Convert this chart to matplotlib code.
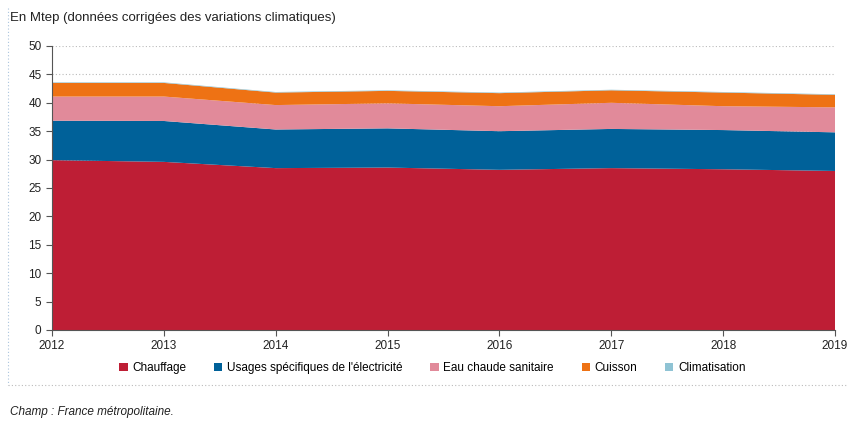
import matplotlib.pyplot as plt
from matplotlib.lines import Line2D
from matplotlib.patches import Patch

plt.rcParams['font.family'] = ['Liberation Sans', 'DejaVu Sans']

# Données (Mtep)
annees = [2012, 2013, 2014, 2015, 2016, 2017, 2018, 2019]
chauffage = [29.9, 29.6, 28.5, 28.6, 28.2, 28.5, 28.3, 28.0]
electricite = [6.95, 7.2, 6.8, 6.9, 6.8, 6.9, 6.9, 6.8]
eau_chaude = [4.25, 4.3, 4.3, 4.4, 4.4, 4.6, 4.2, 4.4]
cuisson = [2.4, 2.4, 2.2, 2.2, 2.3, 2.2, 2.4, 2.2]
climatisation = [0.1, 0.1, 0.1, 0.1, 0.1, 0.1, 0.1, 0.1]

noms = ['Chauffage', "Usages spécifiques de l'électricité", 'Eau chaude sanitaire',
        'Cuisson', 'Climatisation']
couleurs = ['#BE1E35', '#006199', '#E18A9A', '#EE7214', '#8FC3D4']

fig = plt.figure(figsize=(8.47, 4.21), dpi=100)
ax = fig.add_axes([52 / 847, 1 - 330 / 421, (835 - 52) / 847, (330 - 46) / 421])

ax.stackplot(annees, chauffage, electricite, eau_chaude, cuisson, climatisation,
             colors=couleurs, zorder=2)

ax.set_xlim(2012, 2019)
ax.set_ylim(0, 50)
ax.set_yticks(range(0, 51, 5))
ax.set_xticks(annees)
ax.yaxis.grid(True, linestyle=(0, (1, 2)), color='#bbbbbb', linewidth=0.8, zorder=0)
ax.set_axisbelow(True)
for s in ['top', 'right']:
    ax.spines[s].set_visible(False)
ax.spines['left'].set_color('#555555')
ax.spines['bottom'].set_color('#555555')
ax.tick_params(labelsize=8.5, colors='#222222', length=4, color='#555555')

# Légende
handles = [Patch(facecolor=c, edgecolor='none') for c in couleurs]
fig.legend(handles, noms, loc='center', bbox_to_anchor=(0.5106, 1 - 368 / 421), ncol=5,
           frameon=False, fontsize=8.5, handlelength=0.7, handleheight=0.7,
           handletextpad=0.4, columnspacing=2.35)

fig.text(10 / 847, 1 - 18 / 421, 'En Mtep (données corrigées des variations climatiques)',
         fontsize=9.5, va='center', ha='left', color='#222222')
fig.text(10 / 847, 1 - 412 / 421, 'Champ : France métropolitaine.', fontsize=8.5,
         style='italic', va='center', ha='left', color='#222222')

# Cadre pointillé
fig.add_artist(Line2D([8 / 847, 8 / 847], [1 - 8 / 421, 1 - 385 / 421],
                      linestyle=(0, (1, 2)), color='#aac4dd', linewidth=0.8))
fig.add_artist(Line2D([8 / 847, 1], [1 - 385 / 421, 1 - 385 / 421],
                      linestyle=(0, (1, 2)), color='#bbbbbb', linewidth=0.8))

fig.savefig('out.png', dpi=100)
